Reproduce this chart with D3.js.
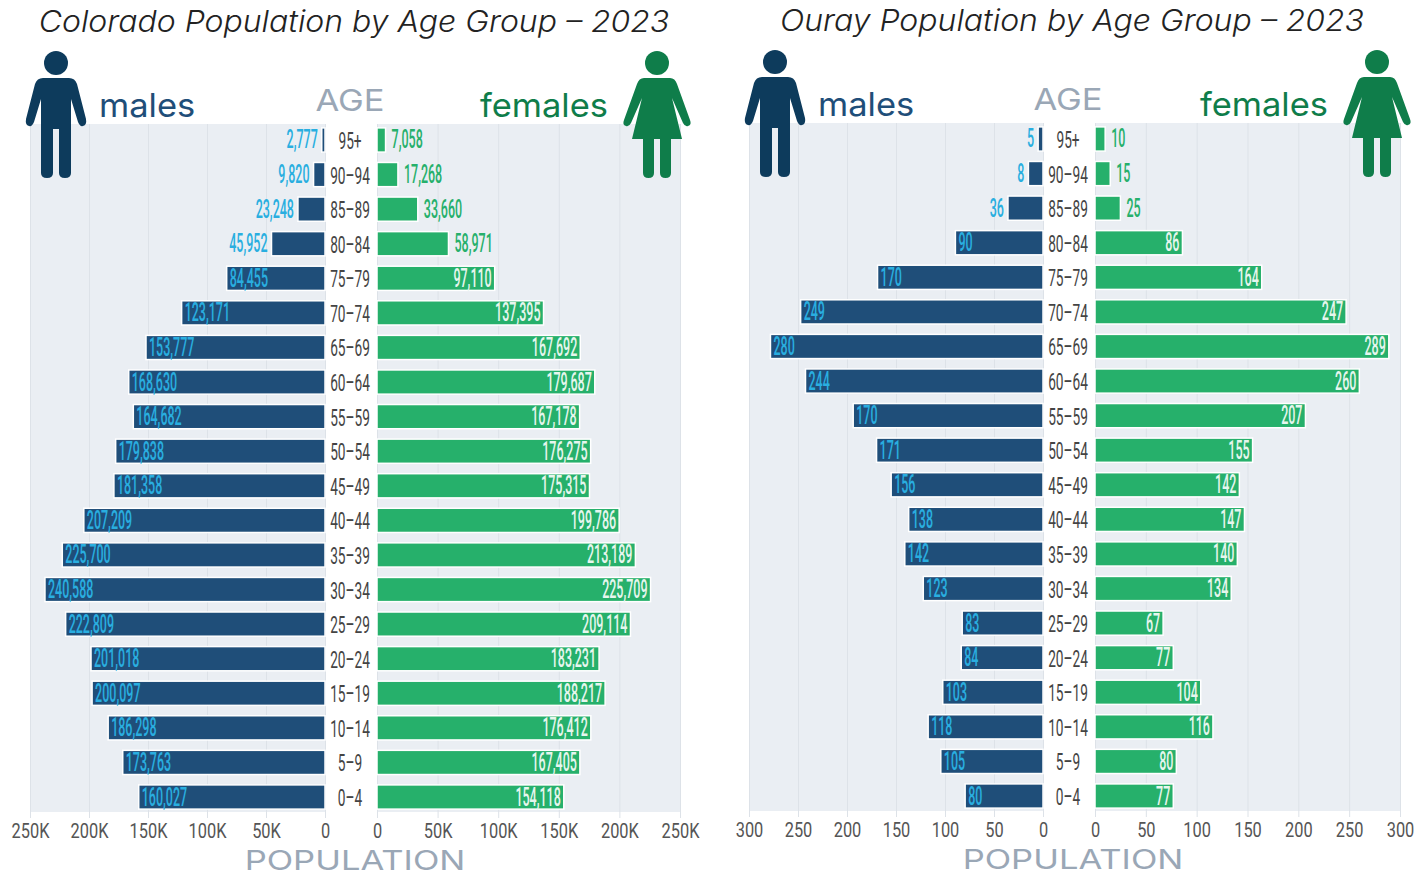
<!DOCTYPE html>
<html>
<head>
<meta charset="utf-8">
<script src="https://cdn.jsdelivr.net/npm/d3@7"></script>
<style>
  html, body { margin: 0; padding: 0; background: #fff; overflow: hidden; }
  text { font-family: Inter, "Open Sans", sans-serif; }
</style>
</head>
<body>
<div id="chart"></div>
<script>
const ages = ["95+", "90-94", "85-89", "80-84", "75-79", "70-74", "65-69", "60-64", "55-59", "50-54",
    "45-49", "40-44", "35-39", "30-34", "25-29", "20-24", "15-19", "10-14", "5-9", "0-4"];

const coloradoMale = [2777, 9820, 23248, 45952, 84455, 123171, 153777, 168630, 164682, 179838,
    181358, 207209, 225700, 240588, 222809, 201018, 200097, 186298, 173763, 160027];
const coloradoFemale = [7058, 17268, 33660, 58971, 97110, 137395, 167692, 179687, 167178, 176275,
    175315, 199786, 213189, 225709, 209114, 183231, 188217, 176412, 167405, 154118];

// the printed numbers and the drawn bars disagree in two Ouray rows (90-94, 55-59), so keep both
const ourayMale = [5, 15, 36, 90, 170, 249, 280, 244, 195, 171,
    156, 138, 142, 123, 83, 84, 103, 118, 105, 80];
const ourayMaleLabels = [5, 8, 36, 90, 170, 249, 280, 244, 170, 171,
    156, 138, 142, 123, 83, 84, 103, 118, 105, 80];
const ourayFemale = [10, 15, 25, 86, 164, 247, 289, 260, 207, 155,
    142, 147, 140, 134, 67, 77, 104, 116, 80, 77];

const coloradoTicks = [0, 50000, 100000, 150000, 200000, 250000];
const ourayTicks = [0, 50, 100, 150, 200, 250, 300];

const maleColor = "#1f4e79";
const femaleColor = "#26b06b";
const maleIcon = "#0d3b5c";
const femaleIcon = "#0f7d4a";
const maleLabel = "#29aee0";
const greyTitle = "#9aa7b6";
const bgColor = "#eaeef3";
const gridColor = "#dde2e8";
const condensed = "Roboto, sans-serif";

const svg = d3.select("#chart")
    .append("svg")
    .attr("width", 1426)
    .attr("height", 876)
    .style("display", "block");

// PERSON ICONS, drawn around the centre of the head
const manPath = "M-13,15 L13,15 Q19,15 21,21 L30,56 Q31,62 27,63 Q24,64 22,59 L15,36 L15,110 Q15,115 9,115 Q3,115 3,110 L3,66 L-3,66 L-3,110 Q-3,115 -9,115 Q-15,115 -15,110 L-15,36 L-22,59 Q-24,64 -27,63 Q-31,62 -30,56 L-21,21 Q-19,15 -13,15 Z";
const womanPath = "M-13,15 L13,15 Q18,15 20,21 L33,57 Q35,62 31,63 Q28,64 26,60 L15,35 L25,76 L14,76 L14,110 Q14,115 8.5,115 Q3,115 3,110 L3,76 L-3,76 L-3,110 Q-3,115 -8.5,115 Q-14,115 -14,110 L-14,76 L-25,76 L-15,35 L-26,60 Q-28,64 -31,63 Q-35,62 -33,57 L-20,21 Q-18,15 -13,15 Z";

function drawIcon(x, y, path, color) {
    const g = svg.append("g").attr("transform", `translate(${x},${y})`);
    g.append("ellipse").attr("rx", 12).attr("ry", 12).attr("fill", color);
    g.append("path").attr("d", path).attr("fill", color);
}

function drawPanel(cfg) {
    const top = cfg.top, bottom = top + 688;

    const xMaleAxis = d3.scaleLinear().domain([0, cfg.max]).range([cfg.maleZero, cfg.maleEnd]);
    // the male bars run a little shorter than the printed axis says
    const xMale = d3.scaleLinear().domain([0, cfg.max]).range([cfg.maleZero, cfg.maleBarEnd]);
    const xFemale = d3.scaleLinear().domain([0, cfg.max]).range([cfg.femaleZero, cfg.femaleEnd]);
    const y = d3.scaleBand().domain(ages)
        .range([top - 1.3, top + 690.3])
        .paddingInner(0.3)
        .paddingOuter(0.15);

    // BACKGROUND
    svg.append("rect").attr("x", cfg.maleEnd).attr("y", top)
        .attr("width", cfg.maleZero - cfg.maleEnd).attr("height", 688).attr("fill", bgColor);
    svg.append("rect").attr("x", cfg.femaleZero).attr("y", top)
        .attr("width", cfg.femaleEnd - cfg.femaleZero).attr("height", 688).attr("fill", bgColor);

    // AXES, the long ticks double as grid lines
    [xMaleAxis, xFemale].forEach(xs => {
        const axis = svg.append("g")
            .attr("transform", `translate(0,${bottom})`)
            .call(d3.axisBottom(xs)
                .tickValues(cfg.ticks)
                .tickFormat(cfg.tickFormat)
                .tickSizeInner(-688)
                .tickSizeOuter(0));
        axis.select(".domain").remove();
        axis.selectAll(".tick line")
            .attr("y2", -688)
            .attr("y1", 6)
            .attr("stroke", gridColor);
        axis.selectAll(".tick text")
            .attr("y", 0)
            .attr("dy", 0)
            .attr("fill", "#555")
            .style("font-family", condensed)
            .style("font-size", "20px")
            .attr("transform", "translate(0,26) scale(0.82,1)");
    });

    // BARS
    svg.append("g").selectAll("rect")
        .data(cfg.male)
        .enter()
        .append("rect")
        .attr("x", d => xMale(d))
        .attr("y", (d, i) => y(ages[i]))
        .attr("width", d => cfg.maleZero - xMale(d))
        .attr("height", y.bandwidth())
        .attr("fill", maleColor)
        .attr("stroke", "#fff")
        .attr("stroke-width", 1.5);

    svg.append("g").selectAll("rect")
        .data(cfg.female)
        .enter()
        .append("rect")
        .attr("x", cfg.femaleZero)
        .attr("y", (d, i) => y(ages[i]))
        .attr("width", d => xFemale(d) - cfg.femaleZero)
        .attr("height", y.bandwidth())
        .attr("fill", femaleColor)
        .attr("stroke", "#fff")
        .attr("stroke-width", 1.5);

    // VALUE LABELS, outside the bar when it is short
    const valueLabel = d3.format(",");
    svg.append("g").selectAll("text")
        .data(cfg.male)
        .enter()
        .append("text")
        .attr("text-anchor", d => d < cfg.insideFrom ? "end" : "start")
        .attr("transform", (d, i) => {
            const lx = d < cfg.insideFrom ? xMale(d) - 4 : xMale(d) + 3;
            return `translate(${lx},${y(ages[i]) + y.bandwidth() / 2 + 8.5}) scale(0.5,1)`;
        })
        .attr("fill", maleLabel)
        .style("font-family", condensed)
        .style("font-size", "25px")
        .style("font-weight", 500)
        .text((d, i) => valueLabel(cfg.maleLabels[i]));

    svg.append("g").selectAll("text")
        .data(cfg.female)
        .enter()
        .append("text")
        .attr("text-anchor", d => d < cfg.insideFrom ? "start" : "end")
        .attr("transform", (d, i) => {
            const lx = d < cfg.insideFrom ? xFemale(d) + 6 : xFemale(d) - 3;
            return `translate(${lx},${y(ages[i]) + y.bandwidth() / 2 + 8.5}) scale(0.5,1)`;
        })
        .attr("fill", d => d < cfg.insideFrom ? femaleColor : "#e6f6ee")
        .style("font-family", condensed)
        .style("font-size", "25px")
        .style("font-weight", 500)
        .text(d => valueLabel(d));

    // AGE LABELS
    const midX = (cfg.maleZero + cfg.femaleZero) / 2 - 1;
    svg.append("g").selectAll("text")
        .data(ages)
        .enter()
        .append("text")
        .attr("text-anchor", "middle")
        .attr("transform", d => `translate(${midX},${y(d) + y.bandwidth() / 2 + 9}) scale(0.57,1)`)
        .attr("fill", "#444")
        .style("font-family", condensed)
        .style("font-size", "24px")
        .text(d => d.replace("-", "–"));

    // TITLES
    svg.append("text")
        .attr("text-anchor", "middle")
        .attr("transform", `translate(${midX + 4},${top - 92}) scale(1.065,1)`)
        .attr("fill", "#222")
        .style("font-size", "30px")
        .style("font-style", "italic")
        .style("font-weight", 300)
        .text(cfg.title);

    svg.append("text")
        .attr("transform", `translate(${cfg.maleEnd + 69},${top - 7}) scale(1.045,1)`)
        .attr("fill", maleColor)
        .style("font-size", "33px")
        .text("males");

    svg.append("text")
        .attr("text-anchor", "end")
        .attr("transform", `translate(${cfg.femaleEnd - 72},${top - 7}) scale(1.045,1)`)
        .attr("fill", femaleIcon)
        .style("font-size", "33px")
        .text("females");

    svg.append("text")
        .attr("text-anchor", "middle")
        .attr("transform", `translate(${midX},${top - 13}) scale(1.15,1)`)
        .attr("fill", greyTitle)
        .style("font-size", "30px")
        .text("AGE");

    svg.append("text")
        .attr("text-anchor", "middle")
        .attr("transform", `translate(${midX + 5},${top + 745.5}) scale(1.28,1)`)
        .attr("fill", greyTitle)
        .style("font-size", "27px")
        .text("POPULATION");

    drawIcon(cfg.maleEnd + 26, top - 61, manPath, maleIcon);
    drawIcon(cfg.femaleEnd - 23, top - 61, womanPath, femaleIcon);
}

drawPanel({
    title: "Colorado Population by Age Group – 2023",
    male: coloradoMale,
    maleLabels: coloradoMale,
    female: coloradoFemale,
    max: 250000,
    ticks: coloradoTicks,
    tickFormat: d => d === 0 ? "0" : (d / 1000) + "K",
    insideFrom: 80000,
    top: 124,
    maleZero: 325,
    maleEnd: 30,
    maleBarEnd: 34,
    femaleZero: 377,
    femaleEnd: 680
});

drawPanel({
    title: "Ouray Population by Age Group – 2023",
    male: ourayMale,
    maleLabels: ourayMaleLabels,
    female: ourayFemale,
    max: 300,
    ticks: ourayTicks,
    tickFormat: d => d,
    insideFrom: 40,
    top: 123,
    maleZero: 1043,
    maleEnd: 749,
    maleBarEnd: 751,
    femaleZero: 1095,
    femaleEnd: 1400
});
</script>
</body>
</html>
